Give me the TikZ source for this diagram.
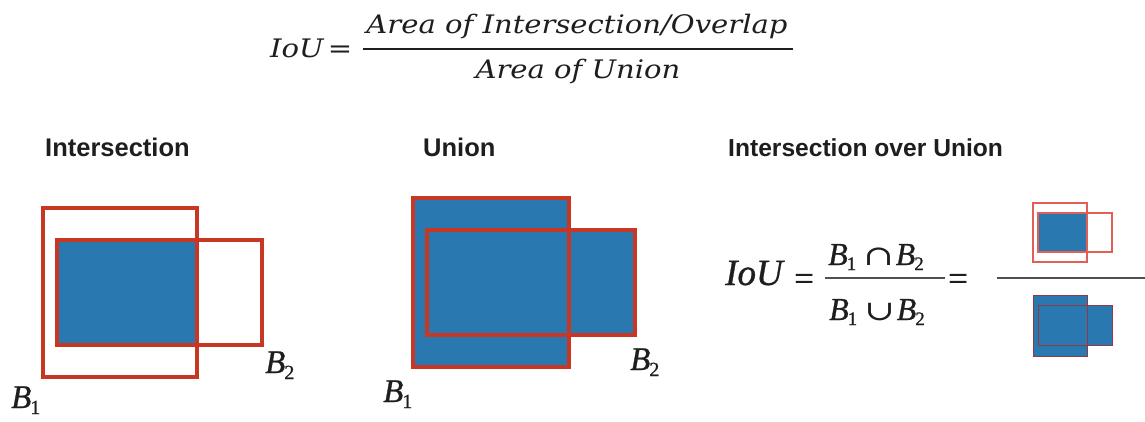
\documentclass[tikz,border=0pt]{standalone}
\usepackage{fontspec}
\newfontfamily\hdr{Liberation Sans}
\newfontfamily\tms{Liberation Serif}[FakeBold=0.8]
\newfontfamily\djv{DejaVu Serif}
\newfontfamily\djvw{DejaVu Serif}[FakeStretch=1.14]
\definecolor{boxblue}{RGB}{42,120,176}
\definecolor{boxred}{RGB}{200,55,35}
\definecolor{iconred}{RGB}{225,95,85}
\definecolor{icondark}{RGB}{150,55,70}
\definecolor{ink}{RGB}{30,30,30}
\definecolor{ruleink}{RGB}{80,80,80}
\newcommand\Bs[3]{{\itshape B}\kern-1pt\raisebox{-#3pt}{\fontsize{#2}{#2}\selectfont #1}}
\newcommand\setop[1]{\scalebox{1.3}[1]{\djv\fontsize{28}{28}\selectfont #1}}
\tikzset{
  hdrtext/.style={inner sep=0pt, anchor=base west, text=ink, font=\hdr\bfseries\fontsize{25.5}{26}\selectfont},
  toptext/.style={inner sep=0pt, anchor=base, text=ink, font=\djvw\itshape\fontsize{25.5}{26}\selectfont},
  tmstext/.style={inner sep=0pt, text=ink, font=\tms\fontsize{#1}{#1}\selectfont},
  tmstext/.default=33,
  bigbox/.style={draw=boxred, line width=4pt},
  bluefill/.style={fill=boxblue, draw=none},
  fracline/.style={draw=#1, line width=2pt},
}
\begin{document}
\begin{tikzpicture}[x=1pt,y=-1pt]
\useasboundingbox[fill=white] (0,0) rectangle (1145,421);

% ---------- top formula ----------
\node[toptext, anchor=base west] (tiou) at (270,57) {IoU\,{\upshape =}};
\node[toptext] (tnum) at (577,33) {Area of Intersection/Overlap};
\node[toptext] (tden) at (578,78) {Area of Union};
\draw[fracline=ink, line width=2.6pt] (363,49) -- (793,49);

% ---------- headers ----------
\node[hdrtext] (h1) at (45,156) {Intersection};
\node[hdrtext] (h2) at (423,156) {Union};
\node[hdrtext, font=\hdr\bfseries\fontsize{24.6}{26}\selectfont] (h3) at (728,156) {Intersection over Union};

% ---------- Intersection diagram ----------
\fill[bluefill] (57,240) rectangle (197,345);
\draw[bigbox] (43,208) rectangle (197,377);
\draw[bigbox] (57,240) rectangle (262,345);
\node[tmstext, anchor=base west] (ib1) at (11,408) {\Bs{1}{20}{6}};
\node[tmstext, anchor=base west] (ib2) at (265,373) {\Bs{2}{20}{6}};

% ---------- Union diagram ----------
\fill[bluefill] (413,198) rectangle (569,367);
\fill[bluefill] (427,230) rectangle (635,335);
\draw[bigbox] (413,198) rectangle (569,367);
\draw[bigbox] (427,230) rectangle (635,335);
\node[tmstext, anchor=base west] (ub1) at (383,402) {\Bs{1}{20}{6}};
\node[tmstext, anchor=base west] (ub2) at (630,370) {\Bs{2}{20}{6}};

% ---------- IoU formula ----------
\node[tmstext=37, anchor=base west] (fiou) at (725,285) {\itshape IoU};
\node[tmstext=35, anchor=base] (feq1) at (804,290) {=};
\node[tmstext=32, anchor=base west] (fnum) at (828,265) {\Bs{1}{19}{5}\hspace{7pt}\setop{∩}\hspace{2pt}\Bs{2}{19}{5}};
\node[tmstext=32, anchor=base west] (fden) at (829,320) {\Bs{1}{19}{5}\hspace{7pt}\setop{∪}\hspace{2pt}\Bs{2}{19}{5}};
\draw[fracline=ruleink] (825,278) -- (945,278);
\node[tmstext=35, anchor=base] (feq2) at (958,290) {=};
\draw[fracline=ruleink] (997,278) -- (1145,278);

% top icon: intersection
\fill[bluefill] (1038,213) rectangle (1087,252);
\draw[draw=iconred, line width=1.3pt] (1033,203) rectangle (1087,262);
\draw[draw=iconred, line width=1.3pt] (1038,213) rectangle (1112,252);

% bottom icon: union
\fill[bluefill] (1033,295) rectangle (1087,356);
\fill[bluefill] (1038,305) rectangle (1112,345);
\draw[draw=icondark, line width=1pt] (1033,295) rectangle (1087,356);
\draw[draw=icondark, line width=1pt] (1038,305) rectangle (1112,345);
\end{tikzpicture}
\end{document}
